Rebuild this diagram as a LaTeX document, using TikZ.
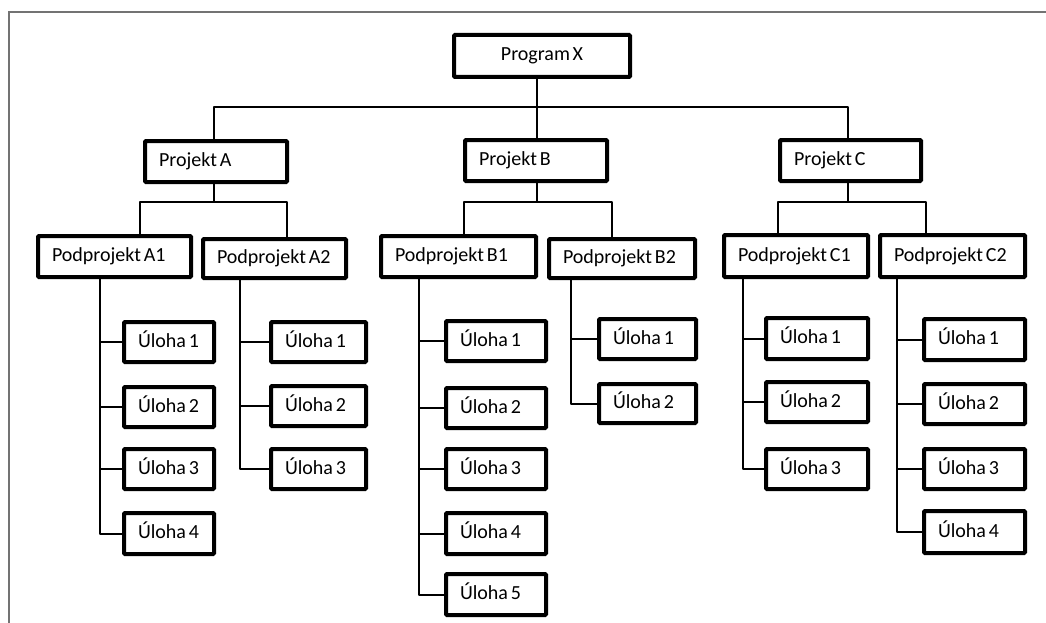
\documentclass[tikz,border=0pt]{standalone}
\usepackage{fontspec}
\setmainfont{Carlito}[WordSpace=0.6]
\tikzset{
  box/.style={draw=black, line width=4pt, rounded corners=1pt, fill=white,
    inner xsep=14pt, inner ysep=0pt, align=left, text height=14pt, text depth=4pt,
    font=\fontsize{20}{22}\selectfont, text=black},
  conn/.style={draw=black, line width=2pt, line join=round},
  frame/.style={draw=black!55, line width=1.2pt}
}
\newcommand\wbsbox[7][]{%
  \pgfmathsetmacro\cx{(#3+#5)/2}\pgfmathsetmacro\cy{(#4+#6)/2}%
  \pgfmathsetmacro\ww{#5-#3-4}\pgfmathsetmacro\hh{#6-#4-4}%
  \pgfmathsetmacro\tw{\ww-28}%
  \node[box, minimum width=\ww pt, minimum height=\hh pt, text width=\tw pt, #1] (#2) at (\cx,\cy) {\makebox[0pt][l]{\spaceskip=2.8pt\relax #7}};}
\begin{document}
\begin{tikzpicture}[x=1pt,y=-1pt]
\useasboundingbox (0,0) rectangle (1046,623);
\draw[frame] (9,623) -- (9,12) -- (1046,12);

% bus / trunk coordinates
\coordinate (busX) at (537,107);
\coordinate (tA) at (214,202);
\coordinate (tB) at (537,202);
\coordinate (tC) at (848,202);
\coordinate (bA1) at (140,202);
\coordinate (bA2) at (287,202);
\coordinate (bB1) at (464,202);
\coordinate (bB2) at (612,202);
\coordinate (bC1) at (778,202);
\coordinate (bC2) at (926,202);
\coordinate (sA1) at (100,0);
\coordinate (sA2) at (240,0);
\coordinate (sB1) at (419,0);
\coordinate (sB2) at (571,0);
\coordinate (sC1) at (743,0);
\coordinate (sC2) at (897,0);

% boxes
\node[box, minimum width=176pt, minimum height=42pt, align=center] (PX) at (542,56) {Program X};
\wbsbox{PA}{143}{139}{289}{184}{Projekt A}
\wbsbox{PB}{463}{138}{609}{183}{Projekt B}
\wbsbox{PC}{778}{138}{923}{183}{Projekt C}
\wbsbox{A1}{36}{234}{193}{279}{Podprojekt A1}
\wbsbox{A2}{201}{237}{348}{280}{Podprojekt A2}
\wbsbox{B1}{379}{234}{538}{279}{Podprojekt B1}
\wbsbox{B2}{547}{237}{697}{280}{Podprojekt B2}
\wbsbox{C1}{722}{233}{870}{279}{Podprojekt C1}
\wbsbox{C2}{878}{233}{1027}{279}{Podprojekt C2}

\wbsbox{A1a}{122}{320}{216}{364}{Úloha 1}
\wbsbox{A1b}{122}{385}{216}{429}{Úloha 2}
\wbsbox{A1c}{122}{447}{216}{491}{Úloha 3}
\wbsbox{A1d}{122}{511}{216}{556}{Úloha 4}

\wbsbox{A2a}{269}{320}{368}{364}{Úloha 1}
\wbsbox{A2b}{269}{384}{368}{428}{Úloha 2}
\wbsbox{A2c}{269}{447}{368}{491}{Úloha 3}

\wbsbox{B1a}{444}{319}{548}{363}{Úloha 1}
\wbsbox{B1b}{444}{386}{548}{430}{Úloha 2}
\wbsbox{B1c}{444}{447}{548}{491}{Úloha 3}
\wbsbox{B1d}{444}{511}{548}{556}{Úloha 4}
\wbsbox{B1e}{444}{572}{548}{617}{Úloha 5}

\wbsbox{B2a}{597}{317}{698}{361}{Úloha 1}
\wbsbox{B2b}{597}{382}{698}{425}{Úloha 2}

\wbsbox{C1a}{764}{316}{870}{361}{Úloha 1}
\wbsbox{C1b}{764}{380}{870}{424}{Úloha 2}
\wbsbox{C1c}{764}{447}{870}{491}{Úloha 3}

\wbsbox{C2a}{922}{317}{1027}{362}{Úloha 1}
\wbsbox{C2b}{922}{382}{1027}{426}{Úloha 2}
\wbsbox{C2c}{922}{447}{1027}{491}{Úloha 3}
\wbsbox{C2d}{922}{509}{1027}{555}{Úloha 4}

% top level
\draw[conn] (busX |- PX.south) -- (busX);
\draw[conn] (tA |- PA.north) -- (tA |- busX) -- (tC |- busX) -- (tC |- PC.north);
\draw[conn] (busX) -- (tB |- PB.north);
% project -> subprojects
\draw[conn] (tA |- PA.south) -- (tA);
\draw[conn] (bA1 |- A1.north) -- (bA1) -- (bA2) -- (bA2 |- A2.north);
\draw[conn] (tB |- PB.south) -- (tB);
\draw[conn] (bB1 |- B1.north) -- (bB1) -- (bB2) -- (bB2 |- B2.north);
\draw[conn] (tC |- PC.south) -- (tC);
\draw[conn] (bC1 |- C1.north) -- (bC1) -- (bC2) -- (bC2 |- C2.north);
% subprojects -> tasks
\draw[conn] (sA1 |- A1.south) -- (sA1 |- A1d.west) -- (A1d.west);
\foreach \t in {A1a,A1b,A1c} \draw[conn] (sA1 |- \t.west) -- (\t.west);
\draw[conn] (sA2 |- A2.south) -- (sA2 |- A2c.west) -- (A2c.west);
\foreach \t in {A2a,A2b} \draw[conn] (sA2 |- \t.west) -- (\t.west);
\draw[conn] (sB1 |- B1.south) -- (sB1 |- B1e.west) -- (B1e.west);
\foreach \t in {B1a,B1b,B1c,B1d} \draw[conn] (sB1 |- \t.west) -- (\t.west);
\draw[conn] (sB2 |- B2.south) -- (sB2 |- B2b.west) -- (B2b.west);
\foreach \t in {B2a} \draw[conn] (sB2 |- \t.west) -- (\t.west);
\draw[conn] (sC1 |- C1.south) -- (sC1 |- C1c.west) -- (C1c.west);
\foreach \t in {C1a,C1b} \draw[conn] (sC1 |- \t.west) -- (\t.west);
\draw[conn] (sC2 |- C2.south) -- (sC2 |- C2d.west) -- (C2d.west);
\foreach \t in {C2a,C2b,C2c} \draw[conn] (sC2 |- \t.west) -- (\t.west);
\end{tikzpicture}
\end{document}
